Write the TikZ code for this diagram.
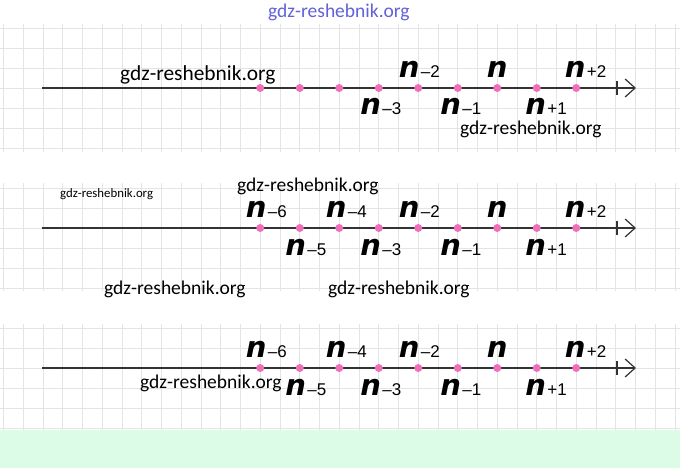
\documentclass[tikz,border=0pt]{standalone}
\usepackage{fontspec}
\setmainfont{Carlito}
\newfontfamily\lblfont{Liberation Sans}
\newfontfamily\nfont{DejaVu Sans}
\usepackage{xcolor}
\usepackage{tikz}
\usetikzlibrary{positioning,arrows.meta,calc}
\definecolor{dotpink}{HTML}{F06EBA}
\definecolor{gridgray}{HTML}{E4E4E4}
\definecolor{mint}{HTML}{DCFCE8}
\definecolor{wmblue}{HTML}{3A3AD0}
\tikzset{
  gridln/.style={draw=gridgray, line width=0.8pt},
  axisln/.style={draw=black!80, line width=1.5pt,
    -{Straight Barb[length=10pt, width=18pt, line width=1.2pt]}},
  tickln/.style={draw=black!80, line width=1.2pt},
  pt/.style={circle, fill=dotpink, inner sep=0pt, minimum size=8pt},
  nsym/.style={font=\nfont\bfseries\itshape\fontsize{29}{29}\selectfont, inner sep=0pt},
  nnum/.style={font=\lblfont\fontsize{17}{17}\selectfont, inner sep=0pt},
  wmark/.style={font=\fontsize{19.5}{20}\selectfont, inner sep=0pt, anchor=west},
}

\begin{document}
\begin{tikzpicture}[x=1pt,y=-1pt]
\useasboundingbox (0,0) rectangle (680,468);
\fill[white] (0,0) rectangle (680,468);
\fill[mint] (0,430) rectangle (680,468);
% ---- grid bands ----
\foreach \top/\bot in {24/152, 183/291, 324/430}
  \foreach \i in {0,...,34}
    \draw[gridln] ({3.5+\i*19.75},\top) -- ({3.5+\i*19.75},\bot);
\foreach \top/\n in {28/6, 188/5, 328/5}
  \foreach \k in {0,...,\n}
    \draw[gridln] (0,{\top+20*\k}) -- (680,{\top+20*\k});
% ---- number lines ----
\foreach \r/\yy in {a/88, b/228, c/368} {
  \coordinate (\r s) at (42,\yy);
  \coordinate (\r e) at (636,\yy);
  \coordinate (\r t) at (617,\yy);
  \draw[axisln] (\r s) -- (\r e);
  \draw[tickln] ([yshift=7pt]\r t) -- ([yshift=-7pt]\r t);
  \foreach \k in {1,...,9}
    \node[pt] (\r\k) at ({260.25+(\k-1)*39.5},\yy) {};
}
% ---- labels, row a ----
\foreach \k/\t/\dx/\dy in {5/{–2}/-9/10, 7/{}/0/10, 9/{+2}/-1/10,
                           4/{–3}/-8/-27, 6/{–1}/-7/-27, 8/{+1}/-1/-27} {
  \node[nsym, anchor=base] (na\k) at ([xshift=\dx pt, yshift=\dy pt]a\k.center) {n};
  \node[nnum, anchor=base west] (ma\k) at ([xshift=1pt]na\k.base east) {\t};
}
% ---- labels, rows b and c ----
\foreach \r in {b,c}
  \foreach \k/\t/\dx/\dy in {1/{–6}/-4/11, 3/{–4}/-3/11, 5/{–2}/-9/11, 7/{}/0/11, 9/{+2}/-1/11,
                             2/{–5}/-4/-27, 4/{–3}/-8/-27, 6/{–1}/-7/-27, 8/{+1}/-1/-27} {
    \node[nsym, anchor=base] (n\r\k) at ([xshift=\dx pt, yshift=\dy pt]\r\k.center) {n};
    \node[nnum, anchor=base west] (m\r\k) at ([xshift=1pt]n\r\k.base east) {\t};
  }
% ---- watermarks ----
\node[wmark, text=wmblue!80] (w0) at (268,12) {gdz-reshebnik.org};
\node[wmark, font=\fontsize{21.4}{22}\selectfont] (w1) at (120,75) {gdz-reshebnik.org};
\node[wmark] (w2) at (460,129) {gdz-reshebnik.org};
\node[wmark, font=\fontsize{12.8}{13}\selectfont] (w3) at (60,194) {gdz-reshebnik.org};
\node[wmark] (w4) at (237,186) {gdz-reshebnik.org};
\node[wmark] (w5) at (104,289) {gdz-reshebnik.org};
\node[wmark] (w6) at (328,289) {gdz-reshebnik.org};
\node[wmark] (w7) at (140,383) {gdz-reshebnik.org};
\end{tikzpicture}
\end{document}
